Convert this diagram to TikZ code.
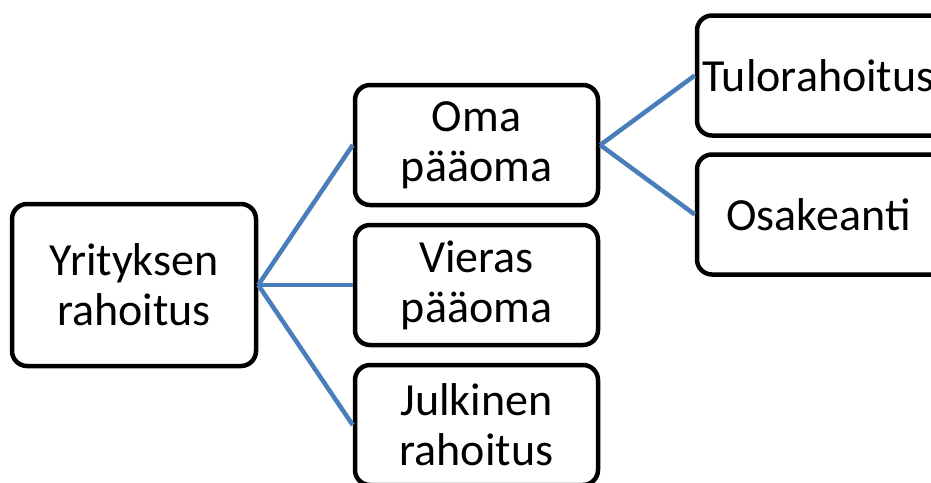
\documentclass[tikz,border=0pt]{standalone}
\usepackage{fontspec}
\setmainfont{Carlito}
\definecolor{linkblue}{RGB}{74,126,187}
\tikzset{
  box/.style={draw=black, line width=4.5pt, rounded corners=15pt, fill=white,
    minimum width=243pt, minimum height=120pt, inner sep=0pt, align=center,
    font=\fontsize{46}{50}\selectfont},
  link/.style={draw=linkblue, line width=4.5pt}
}
\begin{document}
\begin{tikzpicture}[x=1pt,y=-1pt]
\useasboundingbox (0,0) rectangle (931,482);
\node[box, minimum width=244pt, minimum height=162pt] (Y) at (134,285) {Yrityksen\\rahoitus};
\node[box] (O) at (476.5,145) {Oma\\pääoma};
\node[box] (V) at (476.5,285) {Vieras\\pääoma};
\node[box] (J) at (476.5,425) {Julkinen\\rahoitus};
\node[box, minimum width=260pt] (T) at (827,75.5) {\hspace*{-17pt}Tulorahoitus};
\node[box, minimum width=260pt] (S) at (827,214.5) {\hspace*{-17pt}Osakeanti};
\draw[link] (Y.east) -- (O.west);
\draw[link] (Y.east) -- (V.west);
\draw[link] (Y.east) -- (J.west);
\draw[link] (O.east) -- (T.west);
\draw[link] (O.east) -- (S.west);
\end{tikzpicture}
\end{document}
